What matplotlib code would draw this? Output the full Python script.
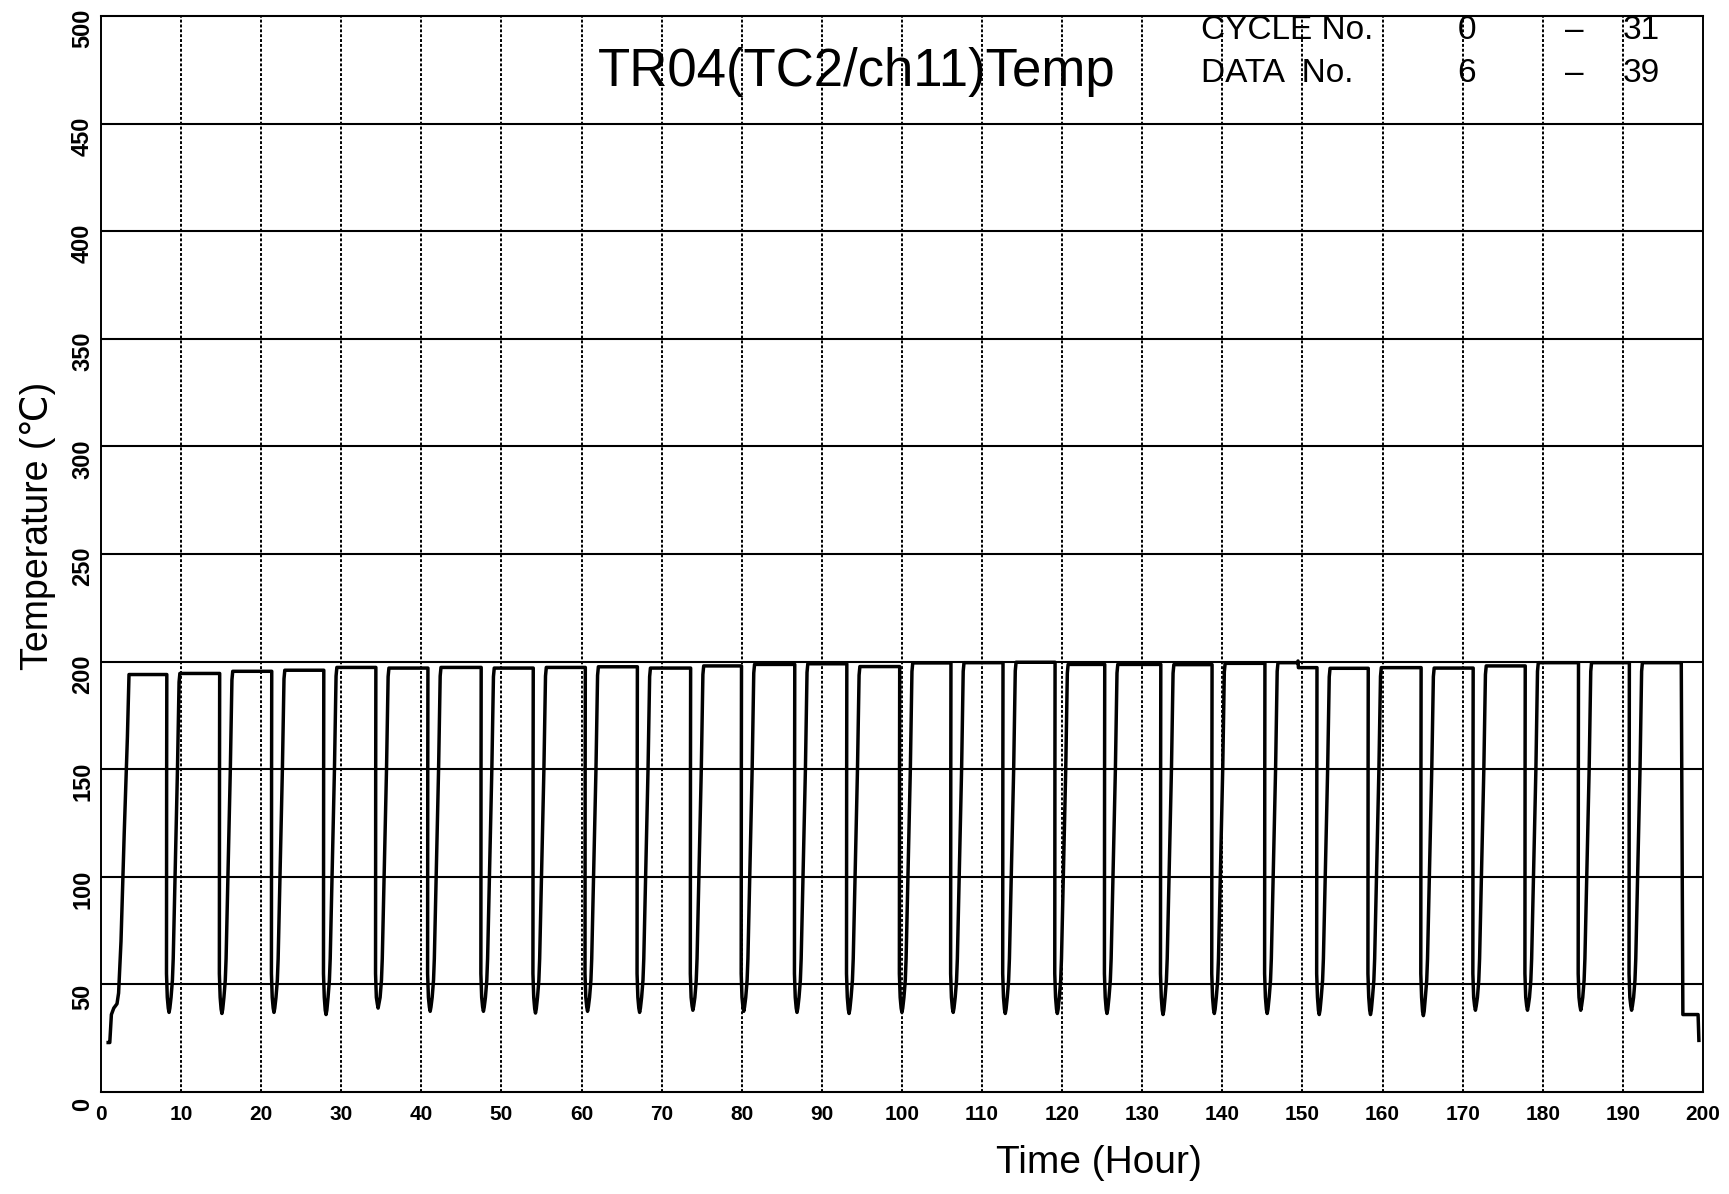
import matplotlib.pyplot as plt
from matplotlib.transforms import ScaledTranslation

plt.rcParams['font.family'] = ['Liberation Sans', 'DejaVu Sans']

# axis ticks
x_ticks = list(range(0, 201, 10))
y_ticks = list(range(0, 501, 50))

# warm-up ramp at the start of the record (hour, degC)
start_hours = [0.9, 1.1, 1.3, 1.6, 2.0, 2.2, 2.5, 2.9, 3.3, 3.5]
start_temps = [23, 23, 36, 39, 41, 46, 70, 120, 165, 194]

# bottom of each cooling dip (hour) and its minimum temperature
dip_hours = [8.5, 15.1, 21.6, 28.1, 34.6, 41.1, 47.75, 54.25, 60.75, 67.25,
             73.9, 80.25, 86.9, 93.4, 100.0, 106.4, 112.9, 119.4, 125.6, 132.6,
             139.0, 145.6, 152.1, 158.5, 165.1, 171.6, 178.1, 184.75, 191.1]
dip_temps = [37, 36.5, 37, 36, 39, 37.5, 37.5, 36.7, 37.5, 37,
             38, 37.5, 37, 36.5, 37, 37, 36.5, 36.5, 36.5, 36,
             36.5, 36.5, 36, 36, 35.5, 38, 38, 38, 38]

# hold temperature of each plateau (first one is before the first dip)
hold_temps = [194, 194.5, 195.5, 196, 197.3, 197, 197.3, 197, 197.3, 197.6,
              197, 198, 198.7, 199, 197.7, 199.4, 199.5, 199.7, 198.7, 198.7,
              198.6, 199.2, 199.5, 196.9, 197.2, 197, 198, 199.5, 199.5, 199.5]

# small step down inside one plateau
step_hour = 149.4
step_temp = 197.2

# end of record
end_hours = [197.3, 197.4, 197.5, 199.4, 199.5]
end_temps = [199.5, 120, 36, 36, 24]

t = list(start_hours)
T = list(start_temps)
for i, td in enumerate(dip_hours):
    p0 = hold_temps[i]
    p1 = hold_temps[i + 1]
    m = dip_temps[i]
    if i > 0 and dip_hours[i - 1] < step_hour < td:
        t += [step_hour, step_hour + 0.05, step_hour + 0.1]
        T += [p0, p0 + 0.8, step_temp]
        p0 = step_temp
    t += [td - 0.28, td - 0.30, td - 0.32, td - 0.22, td - 0.10, td,
          td + 0.10, td + 0.25, td + 0.42, td + 0.52, td + 0.75, td + 1.05,
          td + 1.25, td + 1.35]
    T += [p0, 150, 55, 44, m + 2, m, m + 2, 44, 52, 62, 100, 150, p1 - 4, p1]
t += end_hours
T += end_temps

fig = plt.figure(figsize=(17.29, 11.94), dpi=100)
ax = fig.add_axes([0.0584, 0.0854, 0.9265, 0.9012])

for y in y_ticks[1:-1]:
    ax.axhline(y, color='black', lw=1.5, zorder=1)
for x in x_ticks[1:-1]:
    ax.axvline(x, color='black', lw=1.4, ls=(0, (1.5, 1.0)), zorder=1)

ax.plot(t, T, color='black', lw=2.5, solid_joinstyle='round', zorder=3)

ax.set_xlim(0, 200)
ax.set_ylim(0, 500)
ax.set_xticks(x_ticks)
ax.set_yticks(y_ticks)
ax.tick_params(length=0)
ax.tick_params(axis='x', labelsize=15, pad=9)
ax.tick_params(axis='y', labelsize=17, pad=5, labelrotation=90)
for lab in ax.get_xticklabels() + ax.get_yticklabels():
    lab.set_fontweight('bold')
shift = ScaledTranslation(0, -9 / 72, fig.dpi_scale_trans)
for lab in ax.get_yticklabels():
    lab.set_va('center')
    lab.set_transform(lab.get_transform() + shift)

for side in ['left', 'right']:
    ax.spines[side].set_linestyle((0, (1.5, 1.0)))
    ax.spines[side].set_linewidth(1.4)
for side in ['top', 'bottom']:
    ax.spines[side].set_linewidth(1.5)

ax.set_xlabel('Time (Hour)', fontsize=28)
ax.xaxis.set_label_coords(0.623, -0.049)
ax.set_ylabel('Temperature (℃)', fontsize=27)
ax.yaxis.set_label_coords(-0.028, 0.526)

ax.text(0.472, 0.935, 'TR04(TC2/ch11)Temp', transform=ax.transAxes,
        ha='center', va='baseline', fontsize=38)
ax.text(0.687, 0.9786, 'CYCLE No.', transform=ax.transAxes,
        ha='left', va='baseline', fontsize=24)
ax.text(0.687, 0.9387, 'DATA  No.', transform=ax.transAxes,
        ha='left', va='baseline', fontsize=24)
ax.text(0.8527, 0.9786, '0', transform=ax.transAxes, ha='center', va='baseline', fontsize=24)
ax.text(0.8527, 0.9387, '6', transform=ax.transAxes, ha='center', va='baseline', fontsize=24)
ax.text(0.920, 0.9786, '–', transform=ax.transAxes, ha='center', va='baseline', fontsize=24)
ax.text(0.920, 0.9387, '–', transform=ax.transAxes, ha='center', va='baseline', fontsize=24)
ax.text(0.9613, 0.9786, '31', transform=ax.transAxes, ha='center', va='baseline', fontsize=24)
ax.text(0.9613, 0.9387, '39', transform=ax.transAxes, ha='center', va='baseline', fontsize=24)

fig.savefig('out.png', dpi=100)
